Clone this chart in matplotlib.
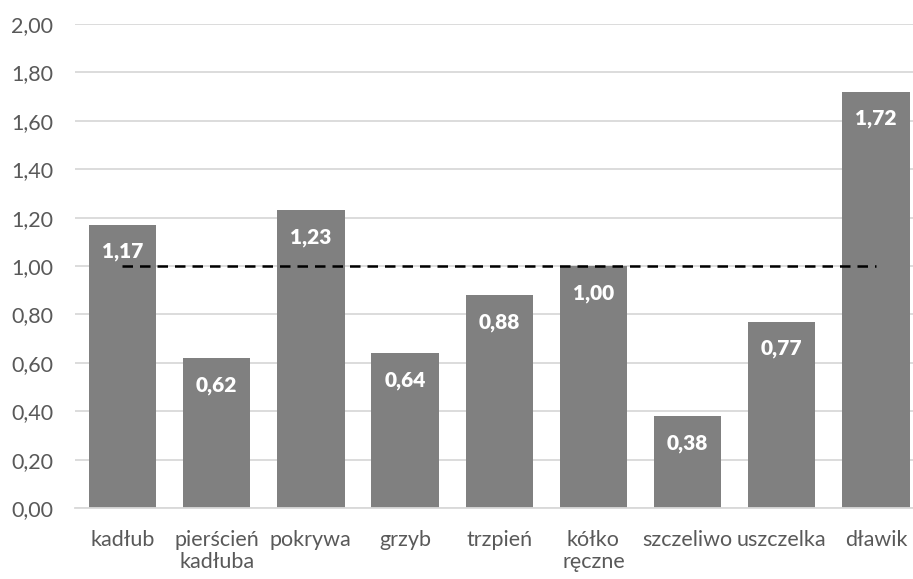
import matplotlib
matplotlib.use("Agg")
import matplotlib.pyplot as plt
from matplotlib.ticker import FuncFormatter

categories = ["kadłub", "pierścień\nkadłuba", "pokrywa", "grzyb", "trzpień",
              "kółko\nręczne", "szczeliwo", "uszczelka", "dławik"]
values = [1.17, 0.62, 1.23, 0.64, 0.88, 1.00, 0.38, 0.77, 1.72]
reference_level = 1.00
y_ticks = [0.0, 0.2, 0.4, 0.6, 0.8, 1.0, 1.2, 1.4, 1.6, 1.8, 2.0]

plt.rcParams['font.family'] = ['Lato', 'DejaVu Sans']

fig = plt.figure(figsize=(9.13, 5.79), dpi=100)
ax = fig.add_axes([75.4 / 913, 1 - 508 / 579, (923 - 75.4) / 913, (508 - 24) / 579])

x = list(range(len(categories)))
bars = ax.bar(x, values, width=0.715, color="#808080", zorder=2)

for xi, v in zip(x, values):
    ax.annotate(f"{v:.2f}".replace(".", ","), xy=(xi, v), xytext=(0, -19.5),
                textcoords="offset points", ha="center", va="center",
                color="white", fontweight="heavy", fontsize=15, zorder=4)

ax.plot([x[0], x[-1]], [reference_level, reference_level], color="black",
        linestyle=(0, (4.2, 2.8)), linewidth=1.8, zorder=3)

ax.set_xlim(-0.5, len(categories) - 0.5)
ax.set_ylim(0, 2.0)
ax.set_yticks(y_ticks)
ax.yaxis.set_major_formatter(FuncFormatter(lambda v, p: f"{v:.2f}".replace(".", ",")))
ax.set_xticks(x)
ax.set_xticklabels(categories, linespacing=1.1)

ax.grid(axis="y", color="#d9d9d9", linewidth=1.3, zorder=0)
ax.set_axisbelow(True)
for side in ["top", "right", "left"]:
    ax.spines[side].set_visible(False)
ax.spines["bottom"].set_color("#d9d9d9")
ax.spines["bottom"].set_linewidth(1.3)
ax.tick_params(axis="both", length=0, labelsize=15.5, labelcolor="#595959")
ax.tick_params(axis="y", pad=16)
ax.tick_params(axis="x", pad=16)

fig.savefig("out.png", dpi=100)
